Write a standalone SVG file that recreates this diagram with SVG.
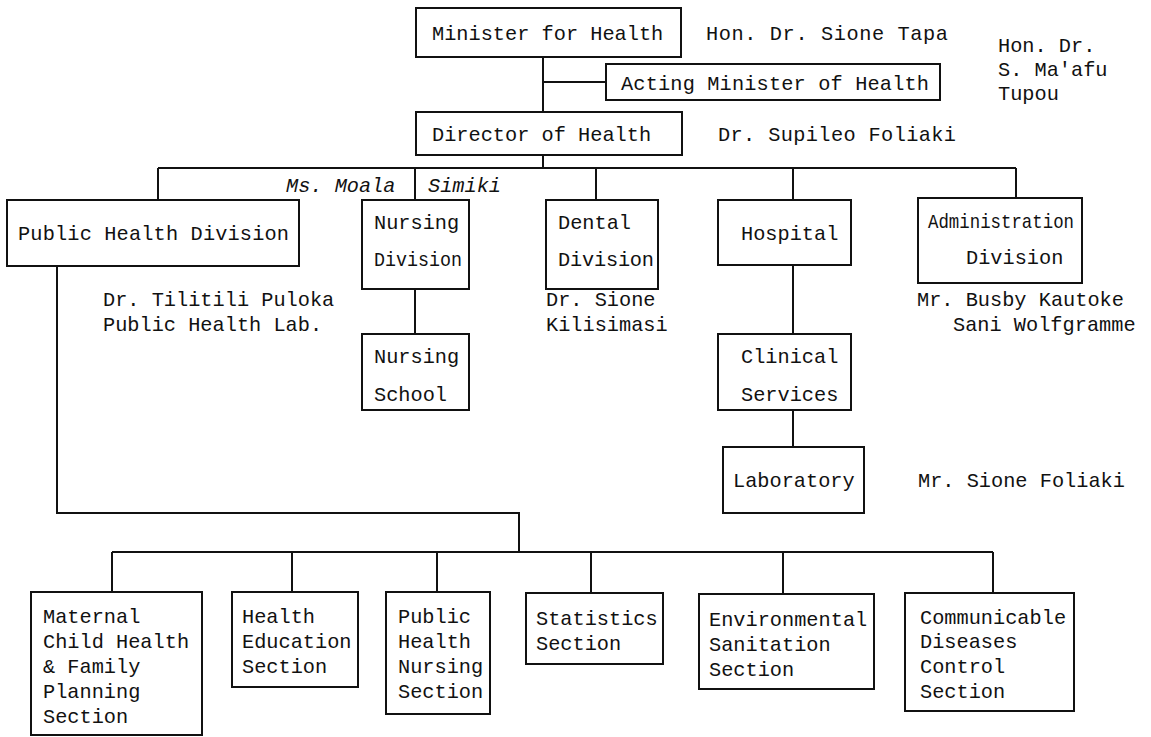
<svg xmlns="http://www.w3.org/2000/svg" width="1151" height="737" viewBox="0 0 1151 737">
<style>
.b{fill:#fff;stroke:#111;stroke-width:2}
.c{fill:none;stroke:#111;stroke-width:2}
text{font-family:"Liberation Mono","DejaVu Sans Mono",monospace;font-size:20.3px;fill:#111}
.i{font-style:italic}
</style>
<rect width="1151" height="737" fill="#fff"/>
<g id="connectors">
<path class="c" d="M543,57V112M543,82H606M543,155V168M158,168H1016M158,168V200M415,168V200M596,168V200M793,168V200M1016,168V198"/>
<path class="c" d="M415,289V334M793,265V334M793,410V447"/>
<path class="c" d="M57,266V513H519V552M112,552H993M112,552V592M292,552V592M437,552V592M591,552V593M783,552V594M993,552V593"/>
</g>
<g id="minister"><rect class="b" x="416" y="8" width="265" height="49"/><text x="432" y="40">Minister for Health</text></g>
<text x="706" y="40" textLength="242">Hon. Dr. Sione Tapa</text>
<g id="acting"><rect class="b" x="606" y="64" width="334" height="36"/><text x="621" y="90" textLength="308">Acting Minister of Health</text></g>
<text x="998" y="52">Hon. Dr.</text>
<text x="998" y="76">S. Ma'afu</text>
<text x="998" y="100">Tupou</text>
<g id="director"><rect class="b" x="416" y="112" width="266" height="43"/><text x="432" y="141">Director of Health</text></g>
<text x="718" y="141" textLength="238">Dr. Supileo Foliaki</text>
<text class="i" x="286" y="192">Ms. Moala</text>
<text class="i" x="428" y="192">Simiki</text>
<g id="phd"><rect class="b" x="7" y="200" width="292" height="66"/><text x="18" y="240" textLength="271">Public Health Division</text></g>
<g id="nursing"><rect class="b" x="362" y="200" width="107" height="89"/><text x="374" y="229">Nursing</text><text x="374" y="266" textLength="88" lengthAdjust="spacingAndGlyphs">Division</text></g>
<g id="dental"><rect class="b" x="546" y="200" width="112" height="89"/><text x="558" y="229">Dental</text><text x="558" y="266" textLength="96">Division</text></g>
<g id="hospital"><rect class="b" x="718" y="200" width="133" height="65"/><text x="741" y="240">Hospital</text></g>
<g id="admin"><rect class="b" x="918" y="198" width="164" height="85"/><text x="928" y="228" textLength="146" lengthAdjust="spacingAndGlyphs">Administration</text><text x="966" y="264">Division</text></g>
<text x="103" y="306">Dr. Tilitili Puloka</text>
<text x="103" y="331">Public Health Lab.</text>
<text x="546" y="306">Dr. Sione</text>
<text x="546" y="331">Kilisimasi</text>
<text x="917" y="306">Mr. Busby Kautoke</text>
<text x="953" y="331">Sani Wolfgramme</text>
<g id="nschool"><rect class="b" x="362" y="334" width="107" height="76"/><text x="374" y="363">Nursing</text><text x="374" y="401">School</text></g>
<g id="clinical"><rect class="b" x="718" y="334" width="133" height="76"/><text x="741" y="363">Clinical</text><text x="741" y="401">Services</text></g>
<g id="lab"><rect class="b" x="723" y="447" width="141" height="66"/><text x="733" y="487">Laboratory</text></g>
<text x="918" y="487">Mr. Sione Foliaki</text>
<g id="mch"><rect class="b" x="31" y="592" width="171" height="143"/><text x="43" y="623">Maternal</text><text x="43" y="648">Child Health</text><text x="43" y="673">&amp; Family</text><text x="43" y="698">Planning</text><text x="43" y="723">Section</text></g>
<g id="he"><rect class="b" x="232" y="592" width="126" height="95"/><text x="242" y="623">Health</text><text x="242" y="648">Education</text><text x="242" y="673">Section</text></g>
<g id="phn"><rect class="b" x="386" y="592" width="104" height="122"/><text x="398" y="623">Public</text><text x="398" y="648">Health</text><text x="398" y="673">Nursing</text><text x="398" y="698">Section</text></g>
<g id="stat"><rect class="b" x="526" y="593" width="137" height="71"/><text x="536" y="625">Statistics</text><text x="536" y="650">Section</text></g>
<g id="env"><rect class="b" x="699" y="594" width="175" height="95"/><text x="709" y="626">Environmental</text><text x="709" y="651">Sanitation</text><text x="709" y="676">Section</text></g>
<g id="cdc"><rect class="b" x="905" y="593" width="169" height="118"/><text x="920" y="624">Communicable</text><text x="920" y="648">Diseases</text><text x="920" y="673">Control</text><text x="920" y="698">Section</text></g>
</svg>
